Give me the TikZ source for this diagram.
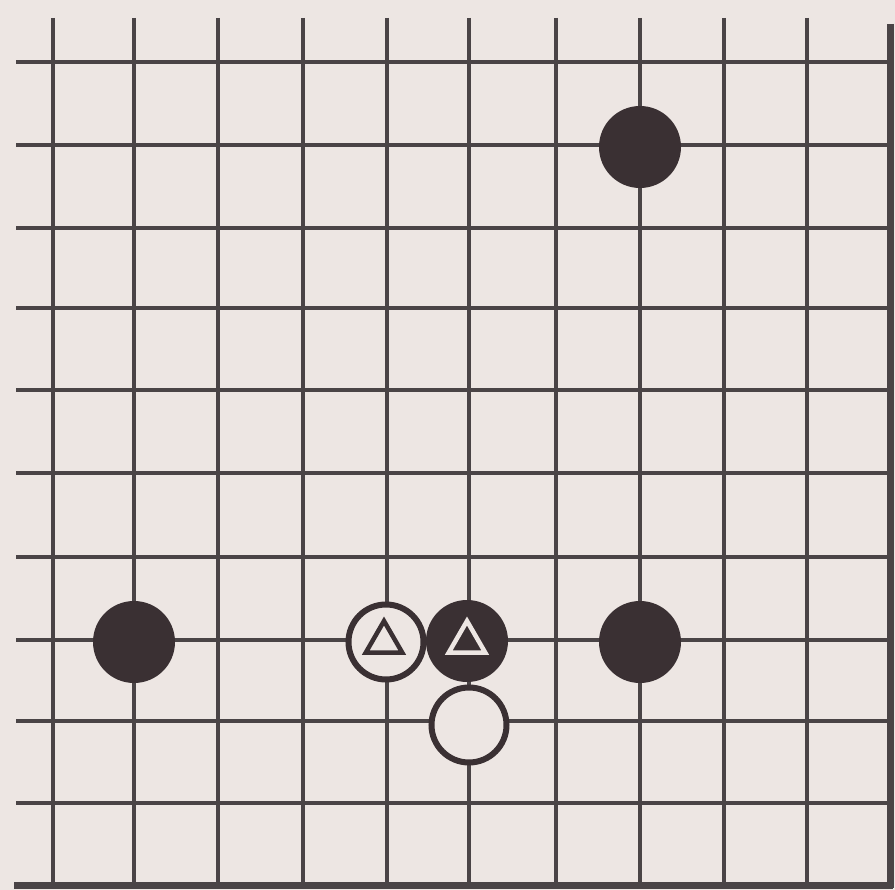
\documentclass[tikz,border=0pt]{standalone}
\usetikzlibrary{shapes.geometric}
\definecolor{paper}{HTML}{EDE6E3}
\definecolor{ink}{HTML}{4A4446}
\definecolor{stoneblack}{HTML}{3A3033}
\tikzset{
  gridline/.style={draw=ink, line width=3.2pt},
  edgeline/.style={draw=ink, line width=7pt},
  blackstone/.style={circle, fill=stoneblack, minimum size=82pt, inner sep=0pt},
  whitestone/.style={circle, fill=paper, draw=stoneblack, line width=6pt, minimum size=75pt, inner sep=0pt},
  tri/.style={regular polygon, regular polygon sides=3, minimum size=42pt, inner sep=0pt, line width=4.5pt},
}
\begin{document}
\begin{tikzpicture}[x=1pt, y=-1pt]
\fill[paper] (0,0) rectangle (895,890);
\useasboundingbox (0,0) rectangle (895,890);
% horizontal lines
\foreach \y in {62,145,228,308,390,473,557,640,721,803}
  \draw[gridline] (16,\y) -- (890,\y);
% vertical lines
\foreach \x in {53,134,218,303,387,469,556,640,724,807}
  \draw[gridline] (\x,18) -- (\x,885);
% edges
\draw[edgeline] (890,24) -- (890,888);
\draw[edgeline] (14,885) -- (893,885);
% stones
\node[blackstone] (b1) at (640,147) {};
\node[blackstone] (b2) at (134,642) {};
\node[blackstone] (b3) at (640,642) {};
\node[blackstone] (b4) at (467,641) {};
\node[whitestone] (w1) at (386,642) {};
\node[whitestone] (w2) at (469,725) {};
% triangle marks
\node[tri, draw=stoneblack] (t1) at (384,642) {};
\node[tri, draw=paper] (t2) at (467,642) {};
\end{tikzpicture}
\end{document}
